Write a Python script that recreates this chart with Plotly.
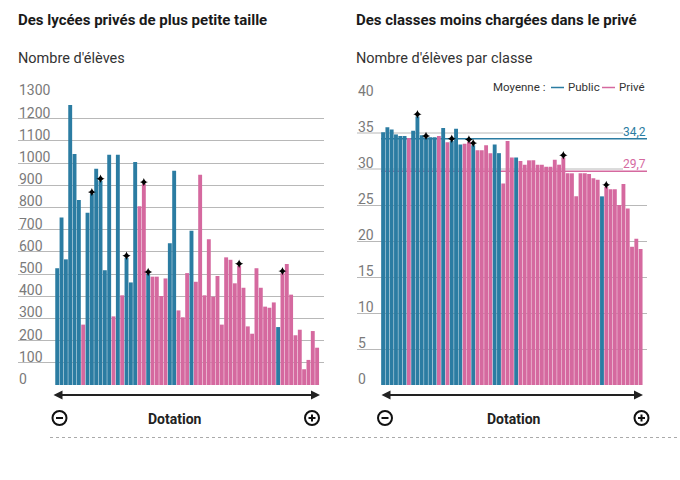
import plotly.graph_objects as go

W, H = 680, 480

# ---------------- data ----------------
schools = list(range(1, 62))  # lycées ranked by dotation (low -> high)
public_ranks = [1, 2, 3, 4, 5, 6, 8, 9, 10, 11, 12, 13, 15, 17, 18, 19, 22, 27, 28, 32, 52]
star_ranks = [9, 11, 17, 21, 22, 43, 53]

eleves = [526, 754, 566, 1261, 1040, 833, 272, 776, 860, 974,
          920, 517, 1037, 309, 1037, 404, 573, 462, 1004, 805,
          905, 500, 488, 488, 401, 480, 638, 965, 336, 305,
          504, 695, 465, 947, 404, 656, 398, 491, 272, 575,
          564, 458, 537, 438, 264, 231, 526, 438, 353, 348,
          372, 261, 504, 545, 407, 224, 249, 71, 113, 243,
          168]

eleves_par_classe = [35.1, 35.8, 35.5, 34.8, 34.6, 34.6, 34.3, 35.3, 37.3, 34.7,
                     34.3, 34.4, 34.4, 34.6, 35.7, 33.7, 33.9, 35.6, 33.4, 33.5,
                     33.8, 33.3, 32.6, 32.6, 33.3, 32.2, 33.4, 32.2, 28.0, 33.9,
                     31.6, 31.6, 31.1, 30.6, 31.2, 31.2, 30.6, 30.6, 30.3, 30.3,
                     31.3, 30.6, 31.6, 29.4, 29.4, 26.2, 29.4, 29.4, 29.3, 28.7,
                     28.5, 26.2, 27.5, 27.2, 27.2, 25.0, 27.9, 24.5, 19.2, 20.3,
                     18.9]

left_ticks = [0, 100, 200, 300, 400, 500, 600, 700, 800, 900, 1000, 1100, 1200, 1300]
right_ticks = [0, 5, 10, 15, 20, 25, 30, 35, 40]
mean_public = 34.2
mean_prive = 29.7
mean_labels = ["34,2", "29,7"]

# ---------------- style ----------------
BLUE = "#2b7ca2"
PINK = "#d5699f"
GRID = "#b8b8b8"
TICK = "#7a7a7a"
FONT = "Roboto"

def px(x):
    return x / W

def py(y):
    return 1 - y / H

colors = [BLUE if s in public_ranks else PINK for s in schools]

fig = go.Figure()

fig.add_trace(go.Bar(x=schools, y=eleves, marker=dict(color=colors, line=dict(width=0)),
                     xaxis="x", yaxis="y", hoverinfo="skip"))
fig.add_trace(go.Bar(x=schools, y=eleves_par_classe, marker=dict(color=colors, line=dict(width=0)),
                     xaxis="x2", yaxis="y2", hoverinfo="skip"))

star_left_off = 9
star_right_off = 0.3
fig.add_trace(go.Scatter(x=star_ranks, y=[eleves[r - 1] + star_left_off for r in star_ranks],
                         mode="markers", xaxis="x", yaxis="y",
                         marker=dict(symbol="star-diamond", size=6, color="black"), hoverinfo="skip"))
fig.add_trace(go.Scatter(x=star_ranks, y=[eleves_par_classe[r - 1] + star_right_off for r in star_ranks],
                         mode="markers", xaxis="x2", yaxis="y2",
                         marker=dict(symbol="star-diamond", size=6, color="black"), hoverinfo="skip"))

ydom = [py(385), py(96.4)]
ydom2 = [py(385), py(97)]

fig.update_layout(
    width=W, height=H,
    margin=dict(l=0, r=0, t=0, b=0),
    paper_bgcolor="white", plot_bgcolor="white",
    showlegend=False,
    bargap=0.1,
    font=dict(family=FONT, color="#222"),
    xaxis=dict(domain=[px(18), px(324)], range=[-8.05, 62.59], showgrid=False,
               showticklabels=False, zeroline=False, showline=False, fixedrange=True),
    yaxis=dict(domain=ydom, range=[0, 1300], tickvals=left_ticks, showgrid=True,
               gridcolor=GRID, gridwidth=1, showticklabels=False, zeroline=False,
               showline=False, anchor="x", layer="below traces"),
    xaxis2=dict(domain=[px(357), px(647)], range=[-5.08, 62.49], showgrid=False,
                showticklabels=False, zeroline=False, showline=False, anchor="y2"),
    yaxis2=dict(domain=ydom2, range=[0, 40], tickvals=[t for t in right_ticks if t not in (30, 35)],
                showgrid=True, gridcolor=GRID, gridwidth=1, showticklabels=False,
                zeroline=False, showline=False, anchor="x2"),
)

shapes = []
# shorter gridlines (room for mean labels)
for t in (30, 35):
    shapes.append(dict(type="line", xref="paper", yref="y2", x0=px(357), x1=px(623), y0=t, y1=t,
                       line=dict(color=GRID, width=1), layer="below"))
# mean lines
shapes.append(dict(type="line", xref="paper", yref="y2", x0=px(381), x1=px(647),
                   y0=mean_public, y1=mean_public, line=dict(color=BLUE, width=1.5), layer="below"))
shapes.append(dict(type="line", xref="paper", yref="y2", x0=px(381), x1=px(647),
                   y0=mean_prive, y1=mean_prive, line=dict(color=PINK, width=1.5), layer="below"))
# legend dashes
shapes.append(dict(type="line", xref="paper", yref="paper", x0=px(551), x1=px(564),
                   y0=py(87.5), y1=py(87.5), line=dict(color=BLUE, width=1.5)))
shapes.append(dict(type="line", xref="paper", yref="paper", x0=px(602), x1=px(615),
                   y0=py(87.5), y1=py(87.5), line=dict(color=PINK, width=1.5)))

# minus / plus circles
def circ(cx, cy, plus):
    r = 7
    out = [dict(type="circle", xref="paper", yref="paper", x0=px(cx - r), x1=px(cx + r),
                y0=py(cy + r), y1=py(cy - r), line=dict(color="#111", width=2))]
    out.append(dict(type="line", xref="paper", yref="paper", x0=px(cx - 3.5), x1=px(cx + 3.5),
                    y0=py(cy), y1=py(cy), line=dict(color="#111", width=2)))
    if plus:
        out.append(dict(type="line", xref="paper", yref="paper", x0=px(cx), x1=px(cx),
                        y0=py(cy - 3.5), y1=py(cy + 3.5), line=dict(color="#111", width=2)))
    return out

shapes += circ(59.5, 418, False) + circ(312, 418, True)
shapes += circ(385, 418, False) + circ(641.5, 418, True)

# dotted separator
shapes.append(dict(type="line", xref="paper", yref="paper", x0=px(50), x1=px(680),
                   y0=py(437.5), y1=py(437.5), line=dict(color="#aaaaaa", width=1, dash="dot")))
fig.update_layout(shapes=shapes)

ann = []
# titles
ann.append(dict(text="<b>Des lycées privés de plus petite taille</b>", x=px(16), y=py(20),
                xref="paper", yref="paper", xanchor="left", yanchor="middle", showarrow=False,
                font=dict(size=15, color="#1a1a1a", family=FONT)))
ann.append(dict(text="<b>Des classes moins chargées dans le privé</b>", x=px(354), y=py(20),
                xref="paper", yref="paper", xanchor="left", yanchor="middle", showarrow=False,
                font=dict(size=15, color="#1a1a1a", family=FONT)))
ann.append(dict(text="Nombre d'élèves", x=px(16), y=py(58), xref="paper", yref="paper",
                xanchor="left", yanchor="middle", showarrow=False,
                font=dict(size=14.5, color="#333", family=FONT)))
ann.append(dict(text="Nombre d'élèves par classe", x=px(354), y=py(58), xref="paper", yref="paper",
                xanchor="left", yanchor="middle", showarrow=False,
                font=dict(size=14.5, color="#333", family=FONT)))
# tick labels
for t in left_ticks:
    ann.append(dict(text=str(t), x=px(17), y=t, xref="paper", yref="y", xanchor="left",
                    yanchor="bottom", yshift=-4, showarrow=False,
                    font=dict(size=14, color=TICK, family=FONT)))
for t in right_ticks:
    ann.append(dict(text=str(t), x=px(356), y=t, xref="paper", yref="y2", xanchor="left",
                    yanchor="bottom", yshift=-4, showarrow=False,
                    font=dict(size=14, color=TICK, family=FONT)))
# mean labels
ann.append(dict(text=mean_labels[0], x=px(648), y=mean_public, xref="paper", yref="y2",
                xanchor="right", yanchor="bottom", yshift=-2, showarrow=False,
                font=dict(size=12, color=BLUE, family=FONT)))
ann.append(dict(text=mean_labels[1], x=px(648), y=mean_prive, xref="paper", yref="y2",
                xanchor="right", yanchor="bottom", yshift=-2, showarrow=False,
                font=dict(size=12, color=PINK, family=FONT)))
# legend
ann.append(dict(text="Moyenne :", x=px(548), y=py(87.5), xref="paper", yref="paper",
                xanchor="right", yanchor="middle", showarrow=False,
                font=dict(size=11.5, color="#333", family=FONT)))
ann.append(dict(text="Public", x=px(566), y=py(87.5), xref="paper", yref="paper",
                xanchor="left", yanchor="middle", showarrow=False,
                font=dict(size=11.5, color="#333", family=FONT)))
ann.append(dict(text="Privé", x=px(617), y=py(87.5), xref="paper", yref="paper",
                xanchor="left", yanchor="middle", showarrow=False,
                font=dict(size=11.5, color="#333", family=FONT)))
# arrows
for (xa, xb) in ((52, 320), (380, 643)):
    ann.append(dict(text="", x=px(xb), y=py(395), xref="paper", yref="paper",
                    ax=-(xb - xa), ay=0, axref="pixel", ayref="pixel", showarrow=True,
                    arrowhead=2, arrowside="end+start", arrowsize=1, arrowwidth=1.8,
                    arrowcolor="#222", standoff=0, startstandoff=0))
# Dotation labels
for cx in (175, 514):
    ann.append(dict(text="<b>Dotation</b>", x=px(cx), y=py(419), xref="paper", yref="paper",
                    xanchor="center", yanchor="middle", showarrow=False,
                    font=dict(size=14, color="#222", family=FONT)))
fig.update_layout(annotations=ann)

fig.write_html("out.html")
